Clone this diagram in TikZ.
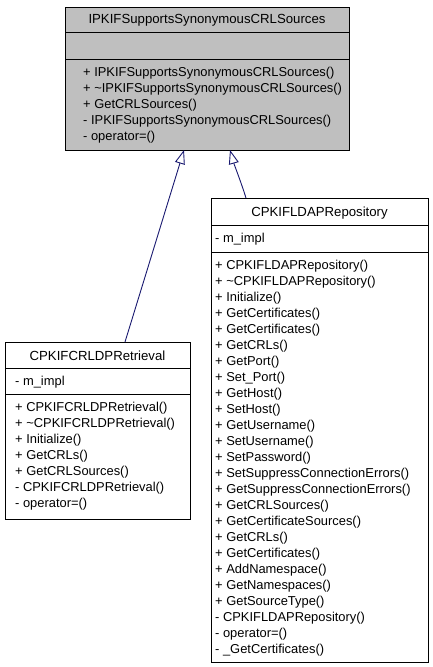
\documentclass[tikz,border=0pt]{standalone}
\usepackage{fontspec}
\setmainfont{Liberation Sans}
\usetikzlibrary{arrows.meta}
\definecolor{edgeblue}{HTML}{191970}
\definecolor{boxgray}{HTML}{BFBFBF}
\begin{document}
\begin{tikzpicture}[x=1pt,y=-1pt,
  box/.style={draw=black, line width=0.9pt, anchor=north west, inner sep=0pt, outer sep=0pt},
  graybox/.style={box, fill=boxgray},
  txt/.style={anchor=base west, inner sep=0pt, font=\fontsize{12.9}{16}\selectfont},
  ttl/.style={anchor=base, inner sep=0pt, font=\fontsize{13.2}{16}\selectfont},
  inh/.style={draw=edgeblue, line width=0.9pt, -{Triangle[open, length=14pt, width=10pt]}}]
\useasboundingbox (0,0) rectangle (432,667);

% ---- top class ----
\node[graybox, minimum width=284pt, minimum height=25pt] (tT) at (65,7) {};
\node[graybox, minimum width=284pt, minimum height=27pt] (tA) at (65,32) {};
\node[graybox, minimum width=284pt, minimum height=91pt] (tM) at (65,59) {};
\node[ttl] (tN) at (207,23.5) {IPKIFSupportsSynonymousCRLSources};
\foreach \t [count=\i from 0] in {%
  + IPKIFSupportsSynonymousCRLSources(),
  + \textasciitilde IPKIFSupportsSynonymousCRLSources(),
  + GetCRLSources(),
  - IPKIFSupportsSynonymousCRLSources(),
  - operator=()}
  \node[txt] (tm\i) at (83,{76.5+16*\i}) {\t};

% ---- left class ----
\node[box, minimum width=185pt, minimum height=26pt] (lT) at (5,342) {};
\node[box, minimum width=185pt, minimum height=26pt] (lA) at (5,368) {};
\node[box, minimum width=185pt, minimum height=125pt] (lM) at (5,394) {};
\node[ttl] (lN) at (97.5,360) {CPKIFCRLDPRetrieval};
\node[txt] (la0) at (15,385.5) {- m\_impl};
\foreach \t [count=\i from 0] in {%
  + CPKIFCRLDPRetrieval(),
  + \textasciitilde CPKIFCRLDPRetrieval(),
  + Initialize(),
  + GetCRLs(),
  + GetCRLSources(),
  - CPKIFCRLDPRetrieval(),
  - operator=()}
  \node[txt] (lm\i) at (15,{411.5+16*\i}) {\t};

% ---- right class ----
\node[box, minimum width=217pt, minimum height=27pt] (rT) at (211,198) {};
\node[box, minimum width=217pt, minimum height=27pt] (rA) at (211,225) {};
\node[box, minimum width=217pt, minimum height=410pt] (rM) at (211,252) {};
\node[ttl] (rN) at (319.5,216.5) {CPKIFLDAPRepository};
\node[txt] (ra0) at (215,242.5) {- m\_impl};
\foreach \t [count=\i from 0] in {%
  + CPKIFLDAPRepository(),
  + \textasciitilde CPKIFLDAPRepository(),
  + Initialize(),
  + GetCertificates(),
  + GetCertificates(),
  + GetCRLs(),
  + GetPort(),
  + Set\_Port(),
  + GetHost(),
  + SetHost(),
  + GetUsername(),
  + SetUsername(),
  + SetPassword(),
  + SetSuppressConnectionErrors(),
  + GetSuppressConnectionErrors(),
  + GetCRLSources(),
  + GetCertificateSources(),
  + GetCRLs(),
  + GetCertificates(),
  + AddNamespace(),
  + GetNamespaces(),
  + GetSourceType(),
  - CPKIFLDAPRepository(),
  - operator=(),
  - \_GetCertificates()}
  \node[txt] (rm\i) at (215,{269.5+16*\i}) {\t};

% ---- inheritance connectors ----
\coordinate (lS) at (125,342);
\coordinate (lE) at (184,150);
\coordinate (rS) at (246,198);
\coordinate (rE) at (230,150);
\draw[inh] (lS) -- (lE);
\draw[inh] (rS) .. controls (241,182) and (234,164) .. (rE);
\end{tikzpicture}
\end{document}
